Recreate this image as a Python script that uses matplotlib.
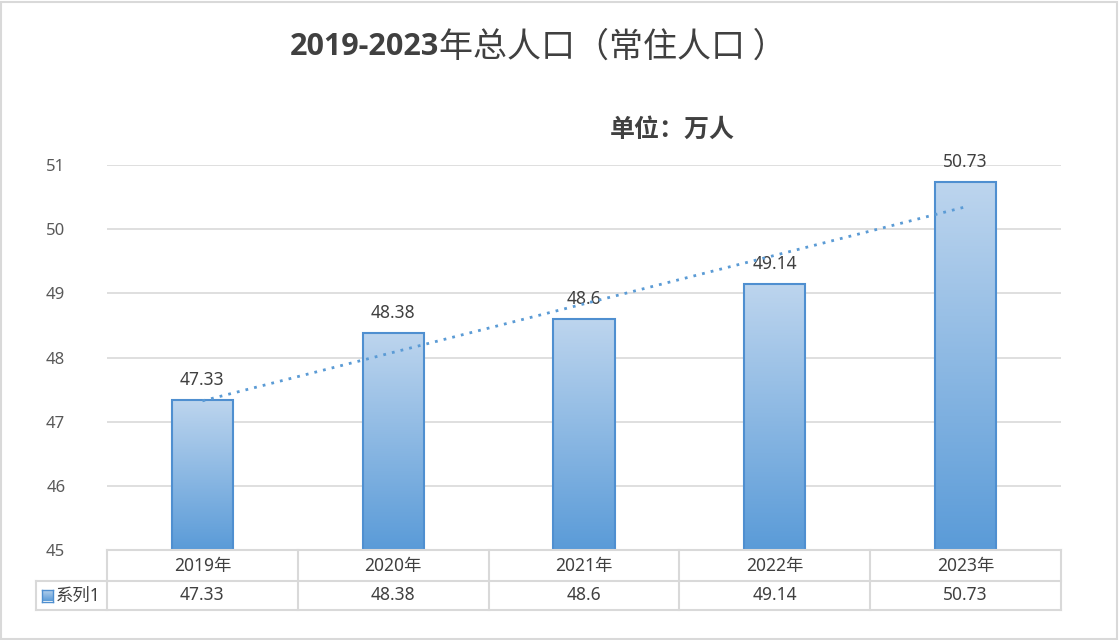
import numpy as np
import matplotlib
matplotlib.use('Agg')
import matplotlib.pyplot as plt
import matplotlib.patches as mpatches
from matplotlib.colors import LinearSegmentedColormap

years = ['2019年', '2020年', '2021年', '2022年', '2023年']
population = [47.33, 48.38, 48.6, 49.14, 50.73]
value_labels = ['47.33', '48.38', '48.6', '49.14', '50.73']
series_name = '系列1'
yticks = [45, 46, 47, 48, 49, 50, 51]

plt.rcParams['font.family'] = ['Noto Sans', 'Noto Sans CJK SC', 'DejaVu Sans']

W, H = 1119, 640
fig = plt.figure(figsize=(W / 100, H / 100), dpi=100)
fig.patch.set_facecolor('white')

GRID = '#D9D9D9'
TXT = '#404040'
EDGE = '#4F8FD0'
grad = LinearSegmentedColormap.from_list('bar', ['#5A9BD8', '#BDD5EE'])


def fx(px):
    return px / W


def fy(py):
    return 1 - py / H


# outer border
fig.add_artist(mpatches.Rectangle((0.001, 0.002), 0.997, 0.995, transform=fig.transFigure,
                                  fill=False, edgecolor=GRID, linewidth=1.5))

# main plot area
x0, x1, ytop, ybot = 107, 1061, 165, 550
ax = fig.add_axes([fx(x0), fy(ybot), fx(x1 - x0), fy(ytop) - fy(ybot)])
ax.set_xlim(-0.5, len(years) - 0.5)
ax.set_ylim(45, 51)
ax.set_yticks(yticks)
ax.set_yticklabels([str(t) for t in yticks], fontsize=12, color='#595959')
ax.set_xticks([])
ax.tick_params(axis='y', length=0, pad=30)
for s in ax.spines.values():
    s.set_visible(False)
ax.grid(axis='y', color=GRID, linewidth=1.2)
ax.set_axisbelow(True)

xs = np.arange(len(years))
bars = ax.bar(xs, [v - 45 for v in population], bottom=45, width=0.32,
              facecolor='none', edgecolor=EDGE, linewidth=1.5, zorder=3)
gimg = np.linspace(0, 1, 256).reshape(-1, 1)
for b, v in zip(bars, population):
    im = ax.imshow(gimg, cmap=grad, aspect='auto', origin='lower',
                   extent=(b.get_x(), b.get_x() + b.get_width(), 45, v), zorder=2)
    im.set_clip_path(b)
ax.set_xlim(-0.5, len(years) - 0.5)
ax.set_ylim(45, 51)

for x, v, lab in zip(xs, population, value_labels):
    ax.annotate(lab, (x, v), xytext=(0, 8), textcoords='offset points',
                ha='center', va='bottom', fontsize=12.5, color=TXT)

# linear trendline
k, c = np.polyfit(xs + 1, population, 1)
ax.plot(xs, k * (xs + 1) + c, linestyle=(0, (1, 2.2)), color='#5B9BD5',
        linewidth=2, zorder=4)

# data table below the axis
r0, r1, r2 = 550, 581, 610
cell_w = (x1 - x0) / len(years)
lines = [((x0, r0), (x1, r0)), ((x0, r1), (x1, r1)), ((36, r1), (x0, r1)),
         ((36, r2), (x1, r2)), ((36, r1), (36, r2)), ((x0, r0), (x0, r2))]
for i in range(1, len(years) + 1):
    xb = x0 + i * cell_w
    lines.append(((xb, r0), (xb, r2)))
for (a, b) in lines:
    fig.add_artist(plt.Line2D([fx(a[0]), fx(b[0])], [fy(a[1]), fy(b[1])],
                              color=GRID, linewidth=1.5, transform=fig.transFigure))

for i, (yr, lab) in enumerate(zip(years, value_labels)):
    cx = x0 + (i + 0.5) * cell_w
    fig.text(fx(cx), fy((r0 + r1) / 2), yr, ha='center', va='center',
             fontsize=12.5, color=TXT)
    fig.text(fx(cx), fy((r1 + r2) / 2), lab, ha='center', va='center',
             fontsize=12.5, color=TXT)

# legend key
ky = (r1 + r2) / 2
key_ax = fig.add_axes([fx(42), fy(ky + 6), fx(11), fy(ky - 6) - fy(ky + 6)])
key_ax.imshow(gimg, cmap=grad, aspect='auto', origin='lower', extent=(0, 1, 0, 1))
key_ax.set_xticks([])
key_ax.set_yticks([])
for s in key_ax.spines.values():
    s.set_color(EDGE)
    s.set_linewidth(1)
fig.text(fx(56), fy(ky), series_name, ha='left', va='center', fontsize=12.5, color=TXT)

# titles
t1 = fig.text(fx(290), fy(47), '2019-2023', ha='left', va='center',
              fontsize=22, fontweight='bold', color=TXT,
              family=['Open Sans', 'DejaVu Sans'])
t2 = fig.text(0, fy(47), '年总人口（常住人口 ）', ha='left', va='center',
              fontsize=24.5, color=TXT, family=['Noto Sans CJK SC', 'DejaVu Sans'])
fig.canvas.draw()
bb = t1.get_window_extent()
t2.set_position((bb.x1 / W, fy(47)))
fig.text(fx(610), fy(130), '单位：万人', ha='left', va='center',
         fontsize=18, fontweight='bold', color=TXT,
         family=['Noto Sans CJK SC', 'DejaVu Sans'])

fig.savefig('out.png', dpi=100, facecolor='white')
